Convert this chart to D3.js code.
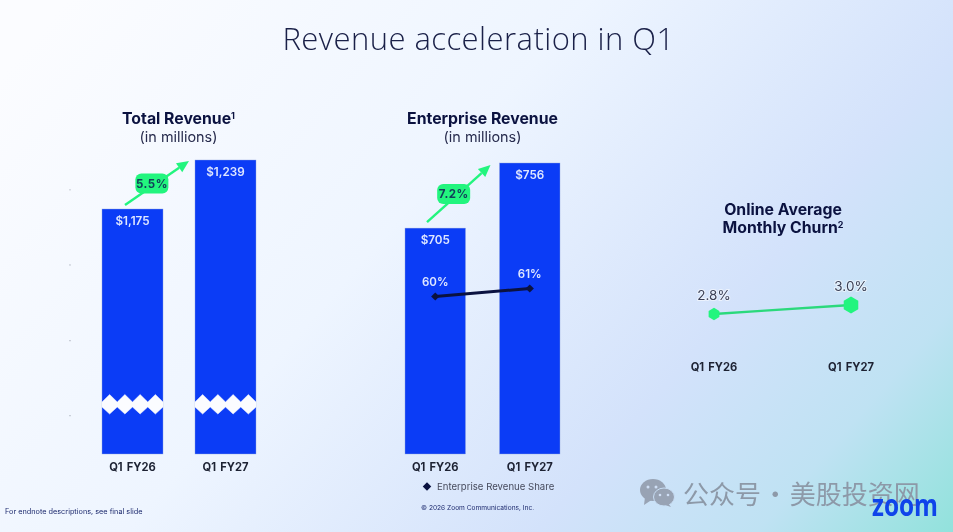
<!DOCTYPE html>
<meta charset="utf-8">
<script src="https://d3js.org/d3.v7.min.js"></script>
<style>
  html, body { margin: 0; padding: 0; background: #fff; }
  svg { display: block; filter: blur(0.3px); }
  text { font-family: Inter, "Open Sans", sans-serif; }
</style>
<div id="my_dataviz"></div>
<script>
// data
const categories = ["Q1 FY26", "Q1 FY27"];
const totalRevenue = [1175, 1239];
const totalLabels = ["$1,175", "$1,239"];
const enterpriseRevenue = [705, 756];
const enterpriseLabels = ["$705", "$756"];
const enterpriseShare = [60, 61];
const shareLabels = ["60%", "61%"];
const churn = [2.8, 3.0];
const churnLabels = ["2.8%", "3.0%"];
const totalGrowth = "5.5%";
const enterpriseGrowth = "7.2%";
const axisDots = [1200, 1102, 1003, 905]; // faint leftover ticks, left of first panel

const width = 953, height = 532;
const blue = "#0b3cf6", green = "#22f57e", navy = "#0b1240", barBase = 454;

const svg = d3.select("#my_dataviz").append("svg")
  .attr("width", width).attr("height", height);

// page background
const defs = svg.append("defs");
const bg = defs.append("linearGradient").attr("id", "bg")
  .attr("gradientUnits", "userSpaceOnUse")
  .attr("x1", 120).attr("y1", -60).attr("x2", 900).attr("y2", 620);
[["0%", "#fbfcff"], ["38%", "#eef5ff"], ["68%", "#d3e2fb"], ["84%", "#bfe2f3"], ["100%", "#8ce2d9"]]
  .forEach(s => bg.append("stop").attr("offset", s[0]).attr("stop-color", s[1]));
svg.append("rect").attr("width", width).attr("height", height).attr("fill", "url(#bg)");

svg.append("text").text("Revenue acceleration in Q1")
  .attr("x", 478.5).attr("y", 50).attr("text-anchor", "middle")
  .style("font-family", "'Open Sans'").style("font-weight", 300)
  .style("letter-spacing", "0.45px")
  .attr("font-size", 31).attr("fill", "#1a2048");

// heading with optional superscript
function heading(cx, y, txt, sup) {
  const t = svg.append("text").attr("x", cx).attr("y", y).attr("text-anchor", "middle")
    .attr("font-size", 15.8).attr("font-weight", 700).attr("fill", navy).text(txt);
  if (sup) t.append("tspan").text(sup).attr("font-size", 9).attr("dy", -5);
}

function subHeading(cx) {
  svg.append("text").text("(in millions)").attr("x", cx).attr("y", 142).attr("text-anchor", "middle")
    .attr("font-size", 14.4).attr("fill", "#272b4d");
}

function xLabels(xOf, y) {
  svg.append("g").selectAll("text").data(categories).join("text")
    .attr("x", xOf).attr("y", y).attr("text-anchor", "middle")
    .style("word-spacing", "1.5px")
    .attr("font-size", 11.2).attr("font-weight", 700).attr("fill", "#1d2233").text(d => d);
}

function barPanel(values, labels, x, y) {
  svg.append("g").selectAll("rect").data(values).join("rect")
    .attr("x", (d, i) => x(categories[i])).attr("y", d => y(d))
    .attr("width", x.bandwidth()).attr("height", d => barBase - y(d))
    .attr("fill", blue).attr("stroke", "#8fa3dd").attr("stroke-width", 0.4);
  svg.append("g").selectAll("text").data(values).join("text")
    .attr("x", (d, i) => x(categories[i]) + x.bandwidth() / 2)
    .attr("y", d => y(d) + 16).attr("text-anchor", "middle")
    .attr("font-size", 11.7).attr("font-weight", 600).attr("fill", "#dfe7ff")
    .text((d, i) => labels[i]);
  xLabels(d => x(d) + x.bandwidth() / 2, 471);
}

function growthArrow(x1, y1, x2, y2, label) {
  const ang = Math.atan2(y2 - y1, x2 - x1);
  const bx = x2 - 12 * Math.cos(ang), by = y2 - 12 * Math.sin(ang);
  svg.append("line").attr("x1", x1).attr("y1", y1).attr("x2", bx).attr("y2", by)
    .attr("stroke", green).attr("stroke-width", 2.4);
  svg.append("path")
    .attr("d", d3.line()([
      [x2, y2],
      [bx - 5.5 * Math.sin(ang), by + 5.5 * Math.cos(ang)],
      [bx + 5.5 * Math.sin(ang), by - 5.5 * Math.cos(ang)]]) + "Z")
    .attr("fill", green);
  const cx = x1 + (x2 - x1) * 0.42, cy = y1 + (y2 - y1) * 0.49;
  svg.append("rect").attr("x", cx - 16.5).attr("y", cy - 10).attr("width", 33).attr("height", 20)
    .attr("rx", 6).attr("fill", green);
  svg.append("text").text(label).attr("x", cx).attr("y", cy + 4.2).attr("text-anchor", "middle")
    .style("letter-spacing", "0.5px")
    .attr("font-size", 11.5).attr("font-weight", 700).attr("fill", "#12405a");
}

// ---- total revenue (axis is cut, the bars carry a break mark)
const xTotal = d3.scaleBand().domain(categories).range([102, 256]).paddingInner(0.344);
const yTotal = d3.scaleLinear().domain([855, 1239]).range([barBase, 160]);

heading(178.5, 124, "Total Revenue", "1");
subHeading(178.5);
barPanel(totalRevenue, totalLabels, xTotal, yTotal);

// zigzag break across each bar
const breakLine = d3.line();
categories.forEach(c => {
  const x0 = xTotal(c), w = xTotal.bandwidth(), teeth = 4, top = [], bottom = [];
  for (let i = 0; i <= teeth * 2; i++) {
    const px = x0 + w * i / (teeth * 2);
    top.push([px, i % 2 ? 394.5 : 402]);
    bottom.push([px, i % 2 ? 414 : 407]);
  }
  svg.append("path").attr("d", breakLine(top.concat(bottom.reverse())) + "Z")
    .attr("fill", "#fbfcff").attr("stroke", "#fbfcff").attr("stroke-width", 0.5);
});

svg.append("g").selectAll("circle").data(axisDots).join("circle")
  .attr("cx", 70).attr("cy", d => yTotal(d)).attr("r", 0.6).attr("fill", "#9aa0ac");

growthArrow(xTotal(categories[0]) + 23, yTotal(totalRevenue[0]) - 4,
  xTotal(categories[1]) - 6, yTotal(totalRevenue[1]) + 1, totalGrowth);

// ---- enterprise revenue
const xEnt = d3.scaleBand().domain(categories).range([405, 560]).paddingInner(0.36);
const yEnt = d3.scaleLinear().domain([528, 756]).range([barBase, 163]);
const yShare = d3.scaleLinear().domain([60, 61]).range([296.5, 288.5]);

heading(482.5, 124, "Enterprise Revenue");
subHeading(482.5);
barPanel(enterpriseRevenue, enterpriseLabels, xEnt, yEnt);

growthArrow(xEnt(categories[0]) + 22, yEnt(enterpriseRevenue[0]) - 6,
  xEnt(categories[1]) - 9, yEnt(enterpriseRevenue[1]) + 2, enterpriseGrowth);

const shareX = (d, i) => xEnt(categories[i]) + xEnt.bandwidth() / 2;
svg.append("path").datum(enterpriseShare)
  .attr("fill", "none").attr("stroke", navy).attr("stroke-width", 3)
  .attr("d", d3.line().x(shareX).y(d => yShare(d)));
svg.append("g").selectAll("path").data(enterpriseShare).join("path")
  .attr("d", d3.symbol(d3.symbolSquare, 34))
  .attr("transform", (d, i) => `translate(${shareX(d, i)},${yShare(d)}) rotate(45)`)
  .attr("fill", navy);
svg.append("g").selectAll("text").data(enterpriseShare).join("text")
  .attr("x", shareX).attr("y", d => yShare(d) - 11).attr("text-anchor", "middle")
  .attr("font-size", 11.5).attr("font-weight", 600).attr("fill", "#dfe7ff")
  .text((d, i) => shareLabels[i]);

// legend
svg.append("path").attr("d", d3.symbol(d3.symbolSquare, 36))
  .attr("transform", "translate(427,486.5) rotate(45)").attr("fill", navy);
svg.append("text").text("Enterprise Revenue Share").attr("x", 437).attr("y", 490)
  .attr("font-size", 9.6).attr("fill", "#464a5c");

// ---- churn
const xChurn = d3.scalePoint().domain(categories).range([714, 851]);
const yChurn = d3.scaleLinear().domain([2.8, 3.0]).range([314, 305]);
const churnX = (d, i) => xChurn(categories[i]);
const hexRadius = [6.2, 8.4];
const hexagon = r => d3.line()(d3.range(6).map(k => {
  const a = k * Math.PI / 3;
  return [r * Math.sin(a), -r * Math.cos(a)];
})) + "Z";

heading(783, 215, "Online Average");
heading(783, 233, "Monthly Churn", "2");
svg.append("path").datum(churn)
  .attr("fill", "none").attr("stroke", "#2bd97c").attr("stroke-width", 2.4)
  .attr("d", d3.line().x(churnX).y(d => yChurn(d)));
svg.append("g").selectAll("path").data(churn).join("path")
  .attr("d", (d, i) => hexagon(hexRadius[i]))
  .attr("transform", (d, i) => `translate(${churnX(d, i)},${yChurn(d)})`)
  .attr("fill", green);
svg.append("g").selectAll("text").data(churn).join("text")
  .attr("x", churnX).attr("y", d => yChurn(d) - 14).attr("text-anchor", "middle")
  .attr("font-size", 13.5).attr("fill", "#3a3f55")
  .attr("stroke", "#ffffff").attr("stroke-opacity", 0.55).attr("stroke-width", 2)
  .style("paint-order", "stroke")
  .text((d, i) => churnLabels[i]);
xLabels(d => xChurn(d), 371);

// ---- footers
svg.append("text").text("For endnote descriptions, see final slide").attr("x", 5).attr("y", 514)
  .attr("font-size", 7.3).attr("fill", "#1d2a6e");
svg.append("text").text("© 2026 Zoom Communications, Inc.").attr("x", 421).attr("y", 510)
  .attr("font-size", 6.6).attr("fill", "#1d2a6e");

// watermark
const mark = svg.append("g").attr("fill", "#98a3b4");
mark.append("ellipse").attr("cx", 653).attr("cy", 490).attr("rx", 13).attr("ry", 11);
mark.append("path").attr("d", "M645 497 L644 505 L653 499 Z");
mark.append("ellipse").attr("cx", 664).attr("cy", 497).attr("rx", 10.5).attr("ry", 9)
  .attr("stroke", "#c8def5").attr("stroke-width", 1);
mark.append("path").attr("d", "M668 503 L671 507 L662 504 Z");
[[648, 487], [656, 487]].forEach(p => svg.append("circle").attr("cx", p[0]).attr("cy", p[1]).attr("r", 1.5).attr("fill", "#cfdff5"));
[[660, 495], [668, 495]].forEach(p => svg.append("circle").attr("cx", p[0]).attr("cy", p[1]).attr("r", 1.3).attr("fill", "#cfdff5"));
svg.append("text").text("公众号 · 美股投资网").attr("x", 683).attr("y", 504)
  .style("font-family", "'Noto Sans CJK SC'").style("word-spacing", "-4.5px")
  .attr("font-size", 26).attr("fill", "#8d99a8");

svg.append("text").text("zoom").attr("x", 872).attr("y", 516)
  .attr("textLength", 66).attr("lengthAdjust", "spacingAndGlyphs")
  .style("font-family", "'Open Sans'").attr("font-weight", 700)
  .attr("font-size", 30).attr("fill", "#0f44ea");
</script>
